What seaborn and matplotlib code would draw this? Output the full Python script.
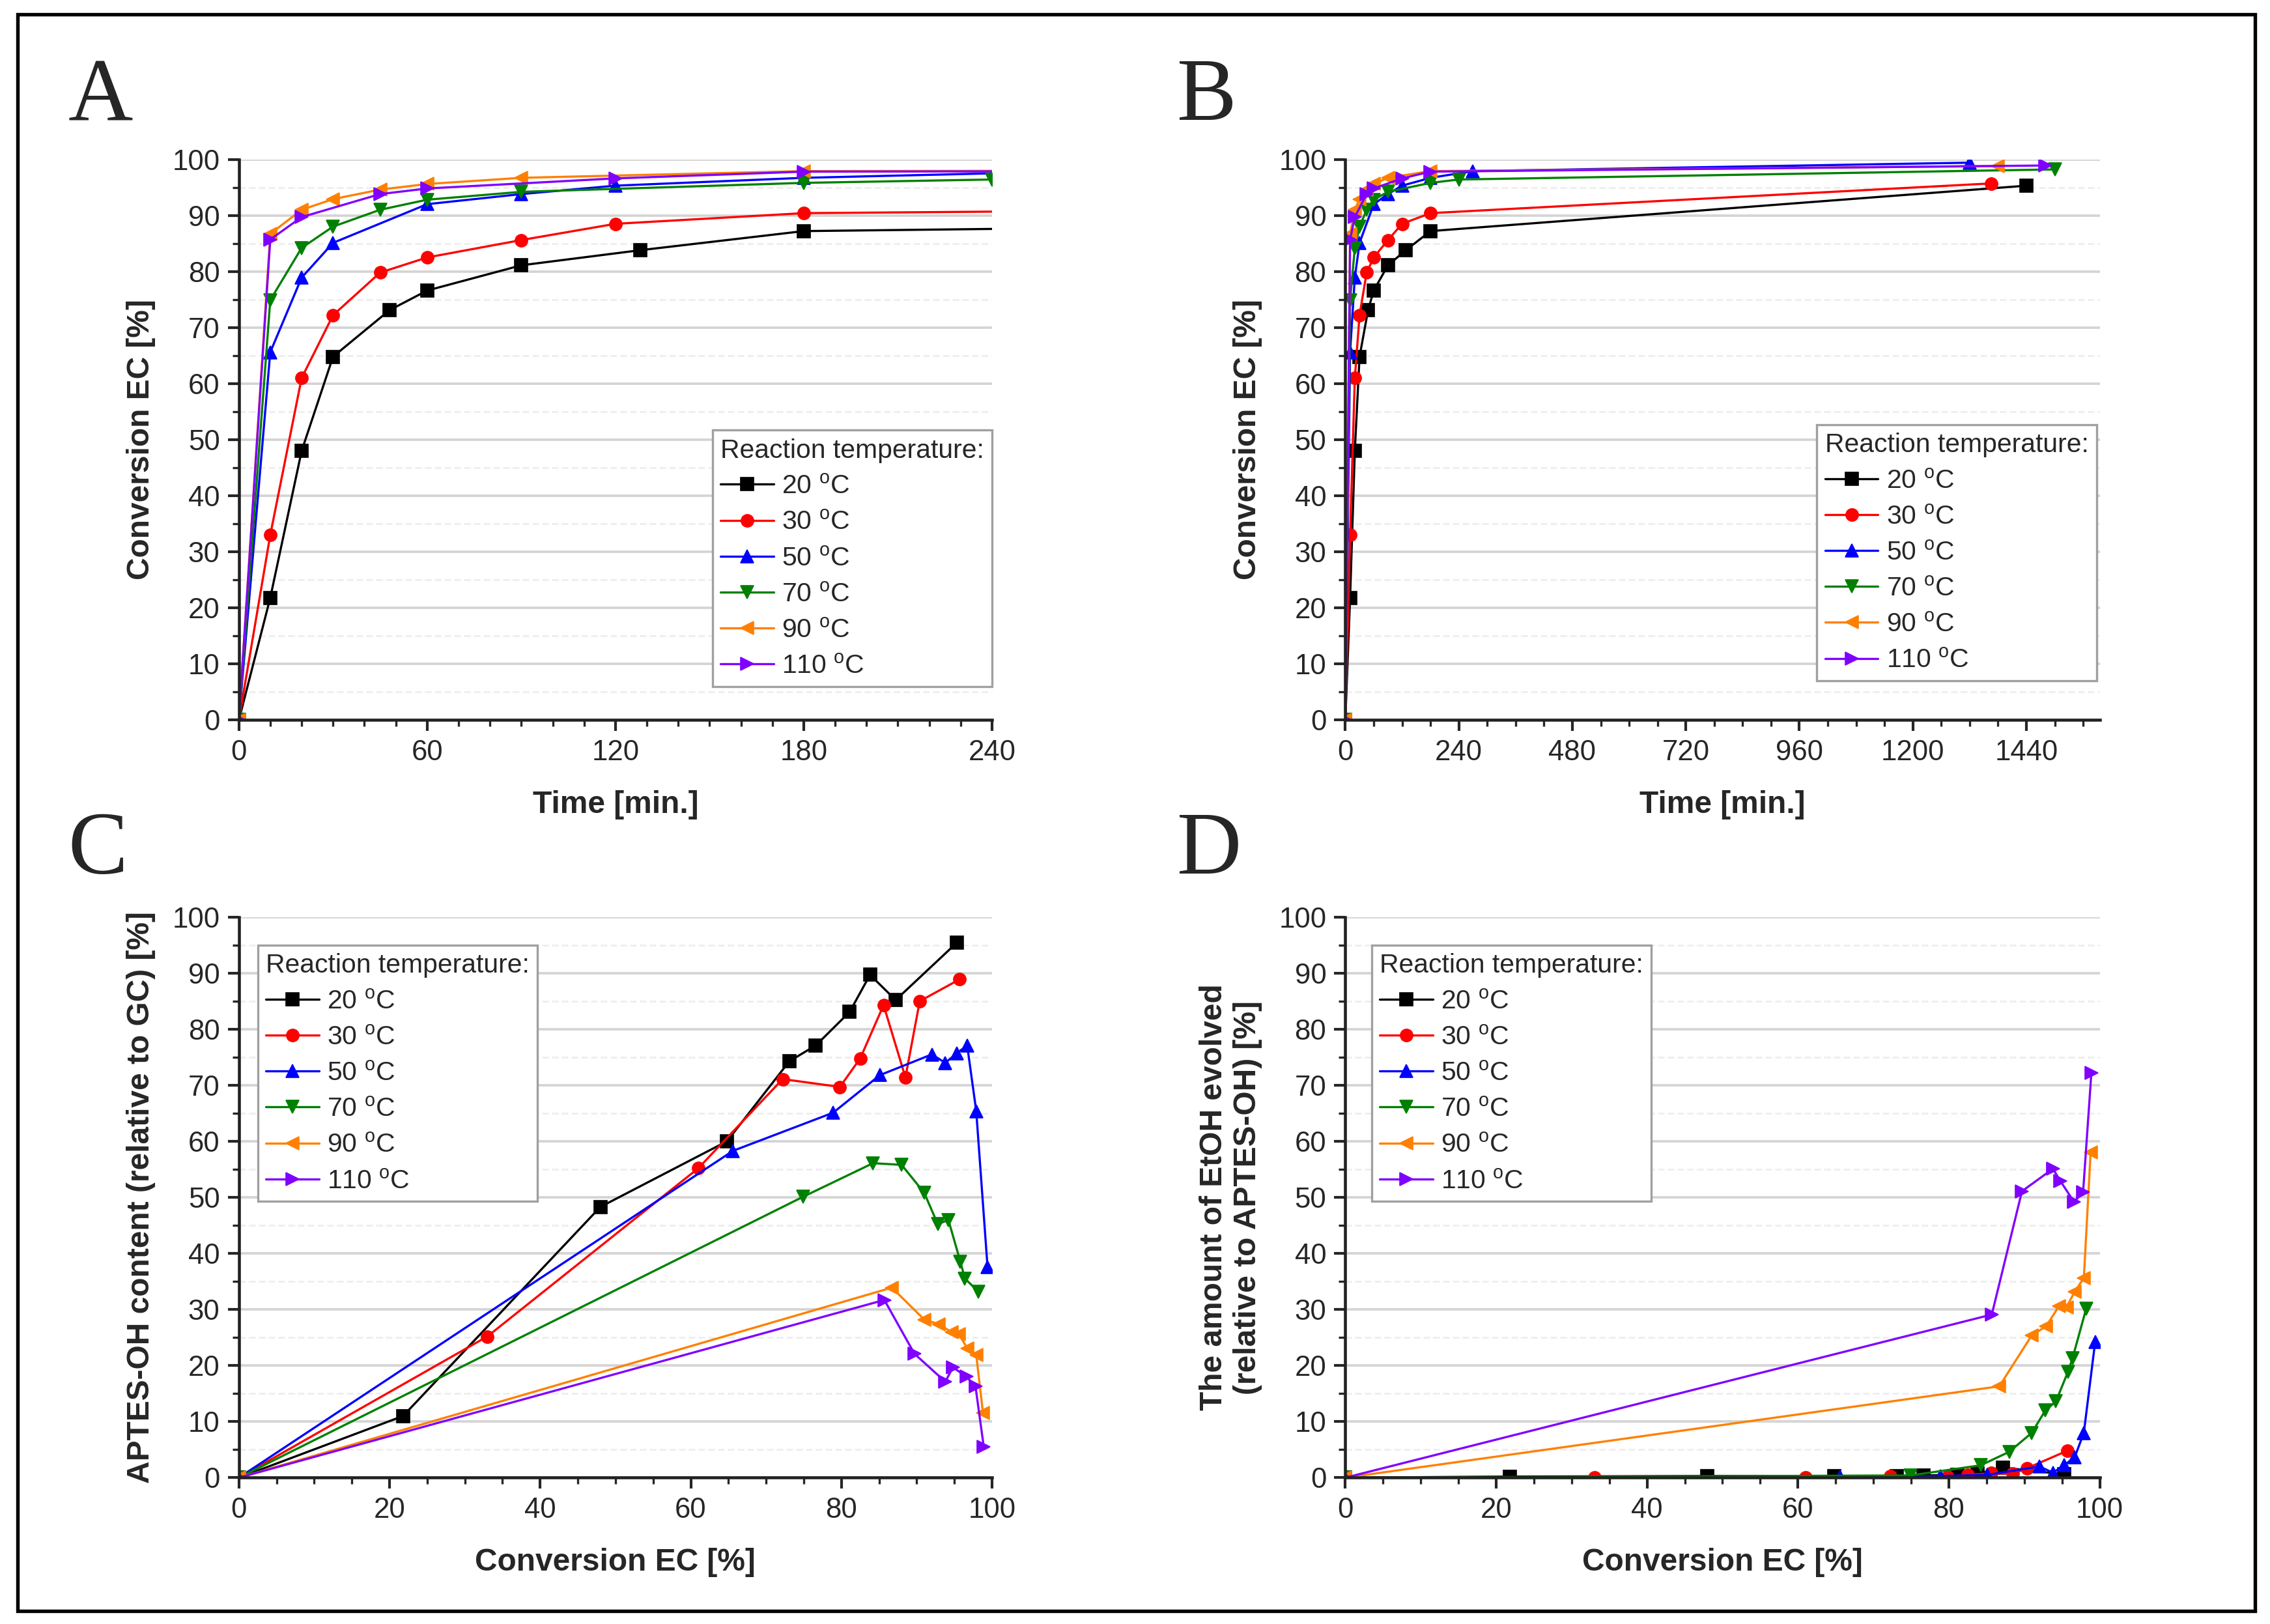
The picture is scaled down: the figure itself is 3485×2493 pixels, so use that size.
import numpy as np
import matplotlib
matplotlib.use("Agg")
import matplotlib.pyplot as plt
from matplotlib.ticker import MultipleLocator
from matplotlib.patches import Rectangle
import pandas as pd
import seaborn as sns

# temperatures (legend labels), colours, markers
temps = ['20', '30', '50', '70', '90', '110']
colors = ['#000000', '#FF0000', '#0000FF', '#008000', '#FF8000', '#8000FF']
markers = ['s', 'o', '^', 'v', '<', '>']

# reaction time [min]
time_20 = [0, 10, 20, 30, 48, 60, 90, 128, 180, 1440]
time_30 = [0, 10, 20, 30, 45, 60, 90, 120, 180, 1365]
time_50 = [0, 10, 20, 30, 60, 90, 120, 180, 270, 1320]
time_70 = [0, 10, 20, 30, 45, 60, 90, 180, 240, 1500]
time_90 = [0, 10, 20, 30, 45, 60, 90, 180, 1380]
time_110 = [0, 10, 20, 45, 60, 120, 180, 1480]

# conversion of EC [%]
conv_20 = [0, 21.8, 48.0, 64.8, 73.1, 76.6, 81.1, 83.8, 87.2, 95.3]
conv_30 = [0, 33.0, 61.0, 72.2, 79.8, 82.5, 85.6, 88.5, 90.4, 95.7]
conv_50 = [0, 65.6, 78.9, 85.1, 92.0, 93.8, 95.3, 96.7, 97.9, 99.4]
conv_70 = [0, 74.9, 84.2, 88.0, 91.0, 92.8, 94.2, 95.8, 96.4, 98.2]
conv_90 = [0, 86.7, 91.0, 92.9, 94.6, 95.6, 96.7, 97.9, 98.8]
conv_110 = [0, 85.7, 89.7, 93.8, 94.8, 96.6, 97.8, 98.9]

# APTES-OH content (relative to GC) [%]
aptes_20 = [0, 11.0, 48.3, 60.0, 74.3, 77.1, 83.1, 89.7, 85.2, 95.4]
aptes_30 = [0, 25.2, 55.2, 71.1, 69.7, 74.8, 84.3, 71.4, 85.0, 88.9]
aptes_50 = [0, 58.3, 65.1, 71.8, 75.5, 74.0, 75.7, 77.1, 65.4, 37.6]
aptes_70 = [0, 50.1, 56.1, 55.8, 50.8, 45.2, 46.0, 38.5, 35.5, 33.2]
aptes_90 = [0, 33.9, 28.2, 27.4, 26.0, 25.6, 23.1, 21.9, 11.5]
aptes_110 = [0, 31.7, 22.1, 17.1, 19.7, 18.0, 16.3, 5.5]

# EtOH evolved (relative to APTES-OH) [%]
etoh_20 = [0, 0.2, 0.3, 0.3, 0.3, 0.4, 0.5, 0.7, 1.8, 0.6]
etoh_30 = [0, 0.1, 0.1, 0.3, 0.2, 0.5, 0.8, 0.7, 1.7, 4.8]
etoh_50 = [0, 0.2, 0.3, 0.5, 2.0, 0.9, 2.2, 3.7, 8.0, 24.2]
etoh_70 = [0, 0.4, 2.2, 4.6, 8.0, 12.0, 13.6, 18.9, 21.3, 30.1]
etoh_90 = [0, 16.3, 25.4, 27.0, 30.6, 30.4, 33.2, 35.6, 58.0]
etoh_110 = [0, 29.1, 51.1, 55.1, 52.9, 49.2, 50.9, 72.2]

times = [time_20, time_30, time_50, time_70, time_90, time_110]
convs = [conv_20, conv_30, conv_50, conv_70, conv_90, conv_110]
aptes = [aptes_20, aptes_30, aptes_50, aptes_70, aptes_90, aptes_110]
etohs = [etoh_20, etoh_30, etoh_50, etoh_70, etoh_90, etoh_110]

frames = []
for t, ti, cv, ap, et in zip(temps, times, convs, aptes, etohs):
    frames.append(pd.DataFrame({'temp': t, 'time': ti, 'conv': cv,
                                'aptes': ap, 'etoh': et}))
df = pd.concat(frames, ignore_index=True)

sns.set_style("ticks")
plt.rcParams['font.family'] = ['Liberation Sans', 'DejaVu Sans']
plt.rcParams['mathtext.fontset'] = 'custom'
plt.rcParams['mathtext.rm'] = 'Liberation Sans'
plt.rcParams['mathtext.it'] = 'Liberation Sans'

fig = plt.figure(figsize=(11.62, 8.31), dpi=300)

pos = {'A': [0.1052, 0.5566, 0.3317, 0.3453],
       'B': [0.5925, 0.5566, 0.3322, 0.3453],
       'C': [0.1052, 0.0901, 0.3317, 0.3452],
       'D': [0.5925, 0.0901, 0.3322, 0.3452]}


def draw(ax, xcol, ycol, xlim, xmaj, xmin, xlabel, ylabel, legend_anchor, legend_loc):
    for i, t in enumerate(temps):
        sub = df[df['temp'] == t]
        sns.lineplot(data=sub, x=xcol, y=ycol, ax=ax, color=colors[i],
                     marker=markers[i], markersize=4.6, markeredgewidth=0.4,
                     markeredgecolor=colors[i], linewidth=0.8, sort=False,
                     estimator=None, label=t + r' $^\mathrm{o}$C')
    ax.set_xlim(*xlim)
    ax.set_ylim(0, 100)
    ax.xaxis.set_major_locator(MultipleLocator(xmaj))
    ax.xaxis.set_minor_locator(MultipleLocator(xmin))
    ax.yaxis.set_major_locator(MultipleLocator(10))
    ax.yaxis.set_minor_locator(MultipleLocator(5))
    ax.grid(which='major', axis='y', color='#d4d4d4', linewidth=0.9)
    ax.grid(which='minor', axis='y', color='#ececec', linewidth=0.6,
            linestyle=(0, (4, 2)))
    ax.set_axisbelow(True)
    for s in ['top', 'right']:
        ax.spines[s].set_visible(False)
    for s in ['left', 'bottom']:
        ax.spines[s].set_linewidth(1.1)
        ax.spines[s].set_color('#222222')
    ax.tick_params(which='major', length=4, width=1.0, labelsize=10.5, pad=3)
    ax.tick_params(which='minor', length=2.5, width=0.8)
    ax.set_xlabel(xlabel, fontsize=11.5, fontweight='bold', labelpad=9)
    ax.set_ylabel(ylabel, fontsize=11.5, fontweight='bold', labelpad=6)
    leg = ax.legend(title='Reaction temperature:', loc=legend_loc,
                    bbox_to_anchor=legend_anchor, fontsize=9.8,
                    title_fontsize=9.8, frameon=True, fancybox=False,
                    edgecolor='#a0a0a0', framealpha=1, handlelength=2.0,
                    handletextpad=0.3, labelspacing=0.42, borderpad=0.3,
                    borderaxespad=0)
    leg.get_frame().set_linewidth(0.8)
    leg._legend_box.align = 'left'


axA = fig.add_axes(pos['A'])
draw(axA, 'time', 'conv', (0, 240), 60, 10, 'Time [min.]', 'Conversion EC [%]',
     (1.0, 0.06), 'lower right')
axB = fig.add_axes(pos['B'])
draw(axB, 'time', 'conv', (0, 1595), 240, 60, 'Time [min.]', 'Conversion EC [%]',
     (0.996, 0.07), 'lower right')
axC = fig.add_axes(pos['C'])
draw(axC, 'conv', 'aptes', (0, 100), 20, 5, 'Conversion EC [%]',
     'APTES-OH content (relative to GC) [%]', (0.025, 0.95), 'upper left')
axD = fig.add_axes(pos['D'])
draw(axD, 'conv', 'etoh', (0, 100), 20, 5, 'Conversion EC [%]',
     'The amount of EtOH evolved\n(relative to APTES-OH) [%]', (0.035, 0.95),
     'upper left')

for lab, x, y in [('A', 0.030, 0.926), ('B', 0.518, 0.926),
                  ('C', 0.030, 0.462), ('D', 0.518, 0.462)]:
    fig.text(x, y, lab, fontsize=33, family='Liberation Serif', ha='left',
             va='baseline')

fig.add_artist(Rectangle((0.0077, 0.008), 0.9855, 0.983, transform=fig.transFigure,
                         fill=False, edgecolor='black', linewidth=1.3))

fig.savefig('out.png', dpi=300)
